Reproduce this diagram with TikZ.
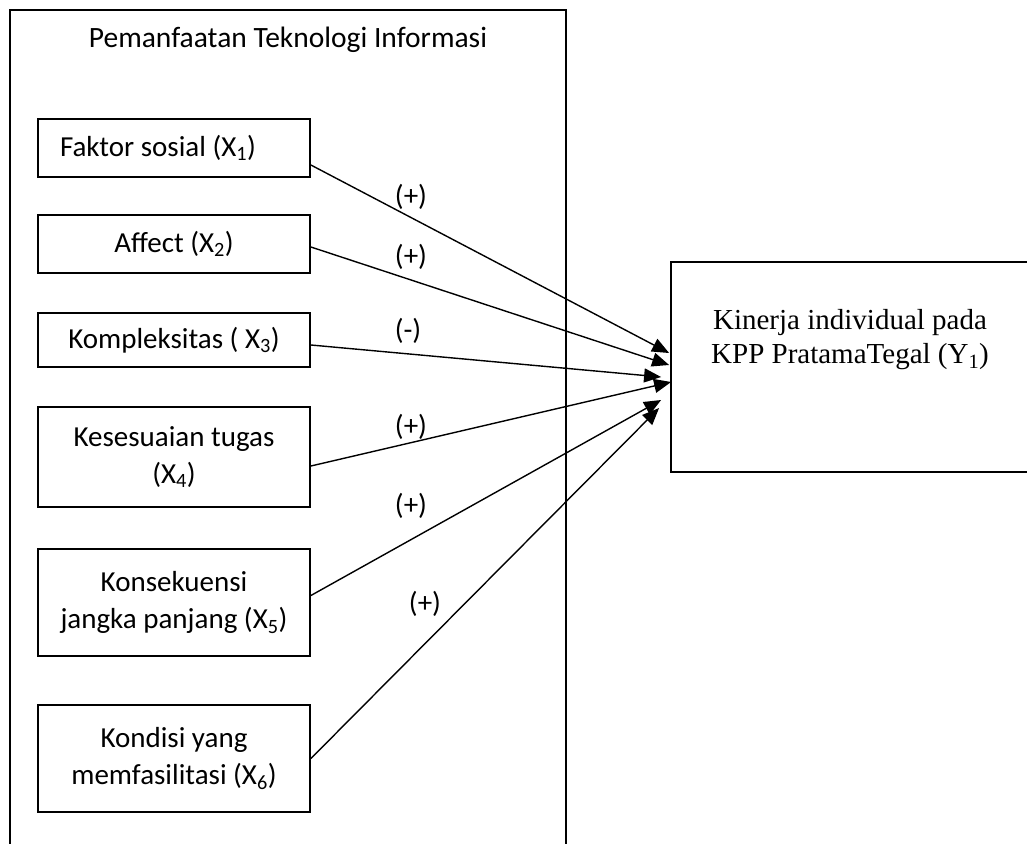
\documentclass[tikz,border=0pt]{standalone}
\usepackage{fontspec}
\setmainfont{Carlito}
\newfontfamily\timesfont{Liberation Serif}
\usetikzlibrary{arrows.meta,positioning}

\begin{document}
\begin{tikzpicture}[
  x=1pt, y=-1pt,
  box/.style={draw, line width=1.8pt, minimum width=272pt, align=center, inner sep=0pt, font=\fontsize{29}{37}\selectfont},
  sign/.style={inner sep=0pt, font=\fontsize{29}{37}\selectfont},
  flow/.style={-{Triangle[length=17pt,width=14pt]}, line width=1.4pt}
]
\useasboundingbox (0,0) rectangle (1027,843);
\clip (0,0) rectangle (1027,843);

\node[draw, line width=1.5pt, minimum width=556pt, minimum height=860pt, inner sep=0pt] (pti) at (288,440) {};
\node[sign, font=\fontsize{29.5}{37}\selectfont] (judul) at (288,40) {Pemanfaatan Teknologi Informasi};

\node[box, minimum height=58pt, text width=228pt, inner xsep=22pt, align=flush left] (faktor) at (174,148) {Faktor sosial (X\textsubscript{1})};
\node[box, minimum height=58pt] (affect) at (174,244) {Affect (X\textsubscript{2})};
\node[box, minimum height=54pt] (kompleks) at (174,340) {Kompleksitas ( X\textsubscript{3})};
\node[box, minimum height=100pt] (sesuai) at (174,457) {Kesesuaian tugas\\(X\textsubscript{4})};
\node[box, minimum height=107pt] (konsek) at (174,602.5) {Konsekuensi\\jangka panjang (X\textsubscript{5})};
\node[box, minimum height=107pt] (kondisi) at (174,758.5) {Kondisi yang\\memfasilitasi (X\textsubscript{6})};

\node[box, minimum width=358pt, minimum height=210pt] (kinerja) at (850,367) {};
\node[align=center, inner sep=0pt, font=\timesfont\fontsize{29}{34}\selectfont] (kinerjatxt) at ([yshift=27pt]kinerja.center) {Kinerja individual pada\\KPP PratamaTegal (Y\textsubscript{1})};

% tanda hubungan
\node[sign] (s1) at (411,197) {(+)};
\node[sign] (s2) at (411,257) {(+)};
\node[sign] (s3) at (408,331) {(-)};
\node[sign] (s4) at (411,427) {(+)};
\node[sign] (s5) at (411,506) {(+)};
\node[sign] (s6) at (425,604) {(+)};

\draw[flow] ([yshift=-17pt]faktor.east) -- ([xshift=-1pt,yshift=14pt]kinerja.west);
\draw[flow] ([yshift=-3pt]affect.east) -- ([xshift=-1pt,yshift=2pt]kinerja.west);
\draw[flow] ([yshift=-5pt]kompleks.east) -- ([xshift=-9pt,yshift=-10pt]kinerja.west);
\draw[flow] ([yshift=-9pt]sesuai.east) -- ([xshift=1pt,yshift=-15pt]kinerja.west);
\draw[flow] ([yshift=7pt]konsek.east) -- ([xshift=-9pt,yshift=-33pt]kinerja.west);
\draw[flow] (kondisi.east) -- ([xshift=-11pt,yshift=-41pt]kinerja.west);
\end{tikzpicture}
\end{document}
